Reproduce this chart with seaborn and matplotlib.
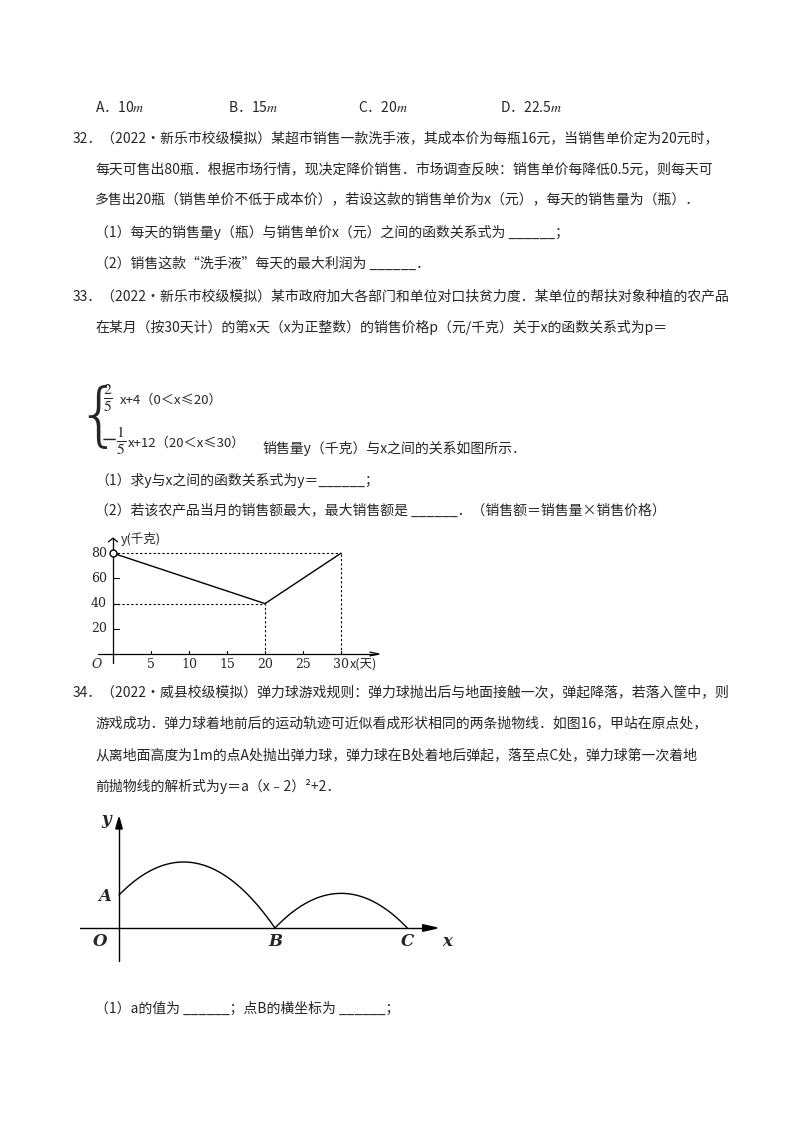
import numpy as np
import matplotlib
matplotlib.use("Agg")
import matplotlib.pyplot as plt
import seaborn as sns

sns.set_theme(style="white")
plt.rcParams['font.family'] = ['Noto Sans CJK SC', 'DejaVu Sans']
plt.rcParams['mathtext.fontset'] = 'stix'

W, H = 800, 1132
# chart 1 data
days = [0, 20, 30]
sales = [80, 40, 80]
xticks1 = [5, 10, 15, 20, 25, 30]
yticks1 = [20, 40, 60, 80]
# chart 2 parameters (y = a(x-2)^2 + 2, through A(0,1))
a1, h1, k1 = -0.25, 2.0, 2.0
a2_peak = 1.05

fig = plt.figure(figsize=(8, 11.32), dpi=100)

def T(x, y, s, size=10, **kw):
    fig.text(x / W, 1 - y / H, s, fontsize=size, va='center', ha=kw.pop('ha', 'left'), **kw)

def ax_px(l, t, r, b):
    return fig.add_axes([l / W, 1 - b / H, (r - l) / W, (b - t) / H])

T(95, 107, "A．10$m$")
T(228, 107, "B．15$m$")
T(358, 107, "C．20$m$")
T(500, 107, "D．22.5$m$")
T(73, 138, "32．（2022•新乐市校级模拟）某超市销售一款洗手液，其成本价为每瓶16元，当销售单价定为20元时，")
T(95, 169, "每天可售出80瓶．根据市场行情，现决定降价销售．市场调查反映：销售单价每降低0.5元，则每天可")
T(95, 199, "多售出20瓶（销售单价不低于成本价），若设这款的销售单价为x（元），每天的销售量为（瓶）．")
T(95, 232, "（1）每天的销售量y（瓶）与销售单价x（元）之间的函数关系式为 ______；")
T(95, 264, "（2）销售这款“洗手液”每天的最大利润为 ______．")
T(73, 296, "33．（2022•新乐市校级模拟）某市政府加大各部门和单位对口扶贫力度．某单位的帮扶对象种植的农产品")
T(95, 327, "在某月（按30天计）的第x天（x为正整数）的销售价格p（元/千克）关于x的函数关系式为p＝")
# piecewise formula
T(76, 419, "{", size=50, family='DejaVu Sans', fontweight='ultralight')
T(103, 398, r"$\frac{2}{5}$", size=16)
T(120, 400, "x+4（0＜x≤20）", size=9.5)
T(101, 441, r"$-\frac{1}{5}$", size=16)
T(128, 443, "x+12（20＜x≤30）", size=9.5)
T(262, 448, "销售量y（千克）与x之间的关系如图所示．")
T(95, 480, "（1）求y与x之间的函数关系式为y＝______；")
T(95, 511, "（2）若该农产品当月的销售额最大，最大销售额是 ______．（销售额＝销售量×销售价格）")
T(73, 692, "34．（2022•威县校级模拟）弹力球游戏规则：弹力球抛出后与地面接触一次，弹起降落，若落入筐中，则")
T(95, 723, "游戏成功．弹力球着地前后的运动轨迹可近似看成形状相同的两条抛物线．如图16，甲站在原点处，")
T(95, 755, "从离地面高度为1m的点A处抛出弹力球，弹力球在B处着地后弹起，落至点C处，弹力球第一次着地")
T(95, 786, "前抛物线的解析式为y＝a（x﹣2）²+2．")
T(95, 1009, "（1）a的值为 ______；点B的横坐标为 ______；")

# ---- chart 1 ----
x0, y0, sx, sy = 113, 654, 7.6, 1.26
xmin, xmax, ymin, ymax = -4, 38, -10, 95
ax = ax_px(x0 + xmin * sx, y0 - ymax * sy, x0 + xmax * sx, y0 - ymin * sy)
ax.set_xlim(xmin, xmax); ax.set_ylim(ymin, ymax); ax.axis('off')
sns.lineplot(x=days, y=sales, ax=ax, color='black', lw=1)
ax.plot([0], [80], 'o', mfc='white', mec='black', ms=5, zorder=5)
ax.plot([-2, 34.8], [0, 0], color='black', lw=0.9)
ax.plot([0, 0], [-7, 91.8], color='black', lw=0.9)
ax.plot([33.8, 35, 33.8], [1.5, 0, -1.5], color='black', lw=0.9)
ax.plot([-0.6, 0, 0.6], [89, 92, 89], color='black', lw=0.9)
dash = (0, (2, 2))
ax.plot([0, 30], [80, 80], ls=dash, color='black', lw=0.8)
ax.plot([30, 30], [0, 80], ls=dash, color='black', lw=0.8)
ax.plot([0, 20], [40, 40], ls=dash, color='black', lw=0.8)
ax.plot([20, 20], [0, 40], ls=dash, color='black', lw=0.8)
for t in xticks1:
    ax.plot([t, t], [0, 2.5], color='black', lw=0.8)
    ax.text(t, -3, str(t), ha='center', va='top', fontsize=9, family='serif')
for t in yticks1:
    ax.plot([0, 0.8], [t, t], color='black', lw=0.8)
    ax.text(-0.8, t, str(t), ha='right', va='center', fontsize=9, family='serif')
ax.text(-1.5, -3, 'O', ha='right', va='top', fontsize=9, style='italic', family='serif')
ax.text(31.2, -3, 'x(天)', ha='left', va='top', fontsize=9)
ax.text(1.0, 91, 'y(千克)', ha='left', va='center', fontsize=9)

# ---- chart 2 ----
ox, oy, s2x, s2y = 119, 928, 32.3, 33.0
xmin, xmax, ymin, ymax = -1.2, 10.5, -1.2, 3.6
ax2 = ax_px(ox + xmin * s2x, oy - ymax * s2y, ox + xmax * s2x, oy - ymin * s2y)
ax2.set_xlim(xmin, xmax); ax2.set_ylim(ymin, ymax); ax2.axis('off')
xb = h1 + np.sqrt(-k1 / a1)
xs = np.linspace(0, xb, 200)
sns.lineplot(x=xs, y=a1 * (xs - h1) ** 2 + k1, ax=ax2, color='black', lw=1)
w2 = np.sqrt(-a2_peak / a1)
xc = xb + 2 * w2
xs2 = np.linspace(xb, xc, 200)
sns.lineplot(x=xs2, y=a1 * (xs2 - (xb + w2)) ** 2 + a2_peak, ax=ax2, color='black', lw=1)
ax2.plot([-2.5, 9.6], [0, 0], color='black', lw=1)
ax2.plot([0, 0], [-1.0, 3.1], color='black', lw=1)
ax2.fill([9.4, 9.85, 9.4], [0.1, 0, -0.1], color='black')
ax2.fill([-0.1, 0, 0.1], [3.0, 3.35, 3.0], color='black')
fs = dict(fontsize=12, style='italic', family='serif', fontweight='bold')
ax2.text(-0.35, -0.15, 'O', ha='right', va='top', **fs)
ax2.text(-0.25, 0.95, 'A', ha='right', va='center', **fs)
ax2.text(xb, -0.15, 'B', ha='center', va='top', **fs)
ax2.text(xc, -0.15, 'C', ha='center', va='top', **fs)
ax2.text(10.0, -0.15, 'x', ha='left', va='top', **fs)
ax2.text(-0.25, 3.3, 'y', ha='right', va='center', **fs)

fig.savefig('out.png', dpi=100)
